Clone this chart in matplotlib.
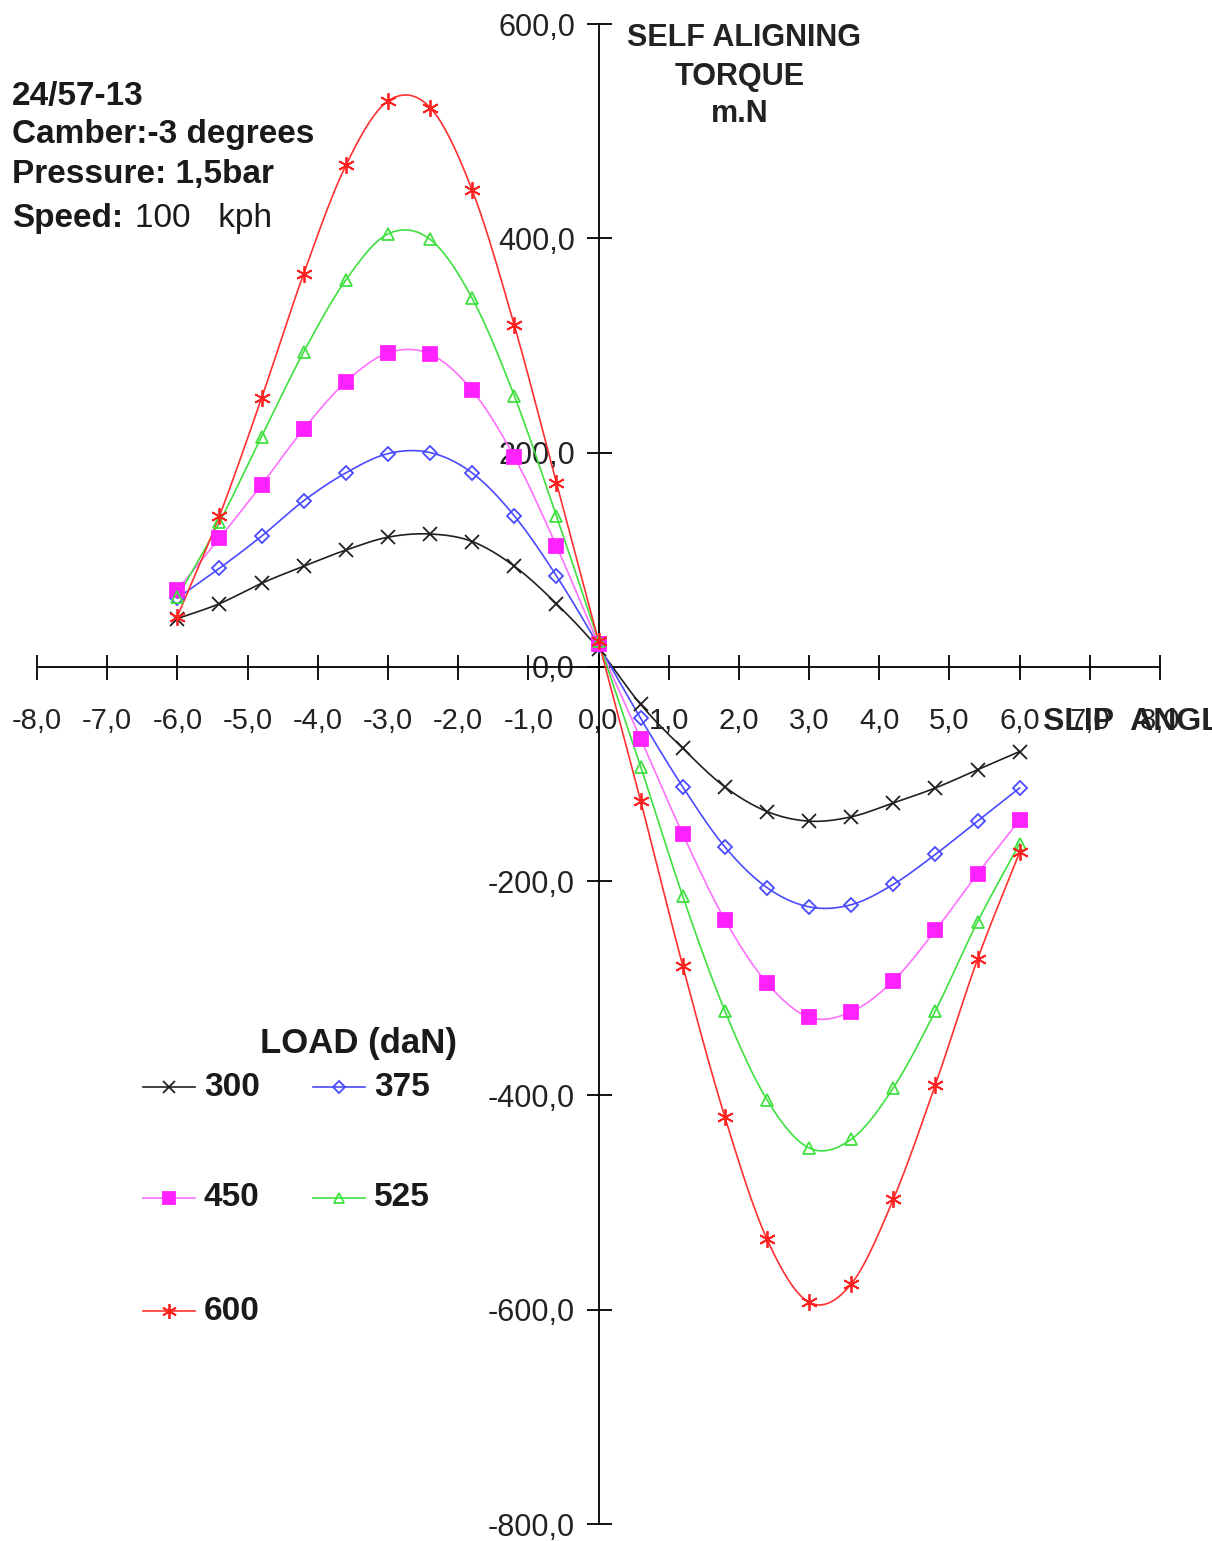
#!/usr/bin/env python3
"""
Self aligning torque vs slip angle for several tyre loads (24/57-13).
"""
import numpy as np
import matplotlib
matplotlib.use('Agg')
import matplotlib.pyplot as plt
from matplotlib.lines import Line2D

plt.rcParams['font.family'] = ['Liberation Sans', 'DejaVu Sans']

slip_angle = [-6.0, -5.4, -4.8, -4.2, -3.6, -3.0, -2.4, -1.8, -1.2, -0.6, 0.0,
              0.6, 1.2, 1.8, 2.4, 3.0, 3.6, 4.2, 4.8, 5.4, 6.0]

loads = ['300', '375', '450', '525', '600']

torque_300 = [45, 59, 78, 94, 109, 121, 124, 117, 94, 59, 17,
              -35, -76, -112, -135, -144, -140, -127, -113, -96, -79]
torque_375 = [64, 92, 122, 155, 181, 199, 200, 181, 141, 85, 20,
              -48, -112, -168, -206, -224, -222, -203, -175, -144, -113]
torque_450 = [72, 120, 170, 222, 266, 293, 292, 258, 196, 113, 21,
              -67, -156, -236, -295, -327, -322, -293, -246, -193, -143]
torque_525 = [65, 135, 215, 294, 361, 404, 399, 344, 253, 141, 24,
              -93, -214, -321, -404, -449, -441, -393, -321, -238, -165]
torque_600 = [47, 141, 251, 367, 468, 528, 522, 445, 319, 172, 24,
              -125, -279, -420, -534, -593, -576, -497, -390, -273, -173]

series = [torque_300, torque_375, torque_450, torque_525, torque_600]

x_ticks = np.arange(-8, 9, 1)
y_ticks = np.arange(-800, 601, 200)

# line colour, marker colour, marker, marker size, filled
styles = [
    ('#202020', '#202020', 'x', 10, True),
    ('#4a4aff', '#4a4aff', 'D', 7, False),
    ('#ff70ff', '#ff22ff', 's', 10, True),
    ('#3fe03f', '#3fe03f', '^', 8, False),
    ('#ff3030', '#ff2020', (6, 2, 0), 12, True),
]


def smooth(x, y, n=20):
    """Catmull-Rom curve through the points, like a spreadsheet smoothed line."""
    x = np.asarray(x, float)
    y = np.asarray(y, float)
    px = np.concatenate([[2 * x[0] - x[1]], x, [2 * x[-1] - x[-2]]])
    py = np.concatenate([[2 * y[0] - y[1]], y, [2 * y[-1] - y[-2]]])
    t = np.linspace(0, 1, n, endpoint=False)
    xs, ys = [], []
    for i in range(1, len(px) - 2):
        for p, out in ((px, xs), (py, ys)):
            p0, p1, p2, p3 = p[i - 1], p[i], p[i + 1], p[i + 2]
            out.append(0.5 * (2 * p1 + (-p0 + p2) * t
                              + (2 * p0 - 5 * p1 + 4 * p2 - p3) * t ** 2
                              + (-p0 + 3 * p1 - 3 * p2 + p3) * t ** 3))
    xs.append([x[-1]])
    ys.append([y[-1]])
    return np.concatenate(xs), np.concatenate(ys)


fig = plt.figure(figsize=(12.12, 15.41), dpi=100)
ax = fig.add_axes([37 / 1212, 17 / 1541, 1123 / 1212, 1500 / 1541])
ax.set_xlim(-8, 8)
ax.set_ylim(-800, 600)

for vals, (lc, mc, mk, ms, filled) in zip(series, styles):
    sx, sy = smooth(slip_angle, vals)
    ax.plot(sx, sy, color=lc, linewidth=1.2, zorder=3)
    ax.plot(slip_angle, vals, linestyle='none', marker=mk, markersize=ms,
            color=mc, markeredgecolor=mc, markeredgewidth=1.3,
            markerfacecolor=mc if filled else 'none', zorder=4)

# axes through the origin
for side in ('top', 'right'):
    ax.spines[side].set_visible(False)
ax.spines['left'].set_position(('data', 0))
ax.spines['bottom'].set_position(('data', 0))
ax.spines['left'].set_linewidth(1.3)
ax.spines['bottom'].set_linewidth(1.3)

ax.set_xticks(x_ticks)
ax.set_xticklabels([f'{v:.1f}'.replace('.', ',') for v in x_ticks])
ax.set_yticks(y_ticks)
ax.set_yticklabels([f'{v:.1f}'.replace('.', ',') for v in y_ticks])
ax.tick_params(axis='both', direction='inout', length=18, width=1.3, colors='black')
ax.tick_params(axis='x', pad=20, labelsize=21)
ax.tick_params(axis='y', pad=8, labelsize=22)
for lab in ax.get_xticklabels() + ax.get_yticklabels():
    lab.set_color('#222222')

# header block
hdr = dict(fontsize=24, fontweight='bold', va='center', color='#1a1a1a')
fig.text(12 / 1212, 1 - 97 / 1541, '24/57-13', **hdr)
fig.text(12 / 1212, 1 - 135 / 1541, 'Camber:-3 degrees', **hdr)
fig.text(12 / 1212, 1 - 175 / 1541, 'Pressure: 1,5bar', **hdr)
fig.text(12 / 1212, 1 - 218 / 1541, 'Speed:', **hdr)
fig.text(135 / 1212, 1 - 218 / 1541, '100   kph', fontsize=24, va='center', color='#1a1a1a')

ttl = dict(fontsize=22, fontweight='bold', ha='center', va='center', color='#222222')
fig.text(744 / 1212, 1 - 38 / 1541, 'SELF ALIGNING', **ttl)
fig.text(740 / 1212, 1 - 77 / 1541, 'TORQUE', **ttl)
fig.text(740 / 1212, 1 - 114 / 1541, 'm.N', **ttl)

fig.text(1043 / 1212, 1 - 722 / 1541, 'SLIP  ANGLE', fontsize=23, fontweight='bold',
         va='center', color='#222222')

# legend block
fig.text(260 / 1212, 1 - 1043 / 1541, 'LOAD (daN)', fontsize=25, fontweight='bold',
         va='center', color='#1a1a1a')
legend_pos = [(143, 1087), (313, 1087), (143, 1198), (313, 1198), (143, 1311)]
for name, (lx, ly), (lc, mc, mk, ms, filled) in zip(loads, legend_pos, styles):
    xf = np.array([lx, lx + 52]) / 1212
    yf = np.array([1 - ly / 1541] * 2)
    fig.add_artist(Line2D(xf, yf, color=lc, linewidth=1.2, transform=fig.transFigure))
    fig.add_artist(Line2D([xf.mean()], [yf[0]], linestyle='none', marker=mk,
                          markersize=ms * 0.9, color=mc, markeredgecolor=mc,
                          markeredgewidth=1.3, markerfacecolor=mc if filled else 'none',
                          transform=fig.transFigure))
    fig.text((lx + 61) / 1212, yf[0], name, fontsize=24, fontweight='bold',
             va='center', color='#1a1a1a')

fig.savefig('out.png', dpi=100)
plt.close(fig)
